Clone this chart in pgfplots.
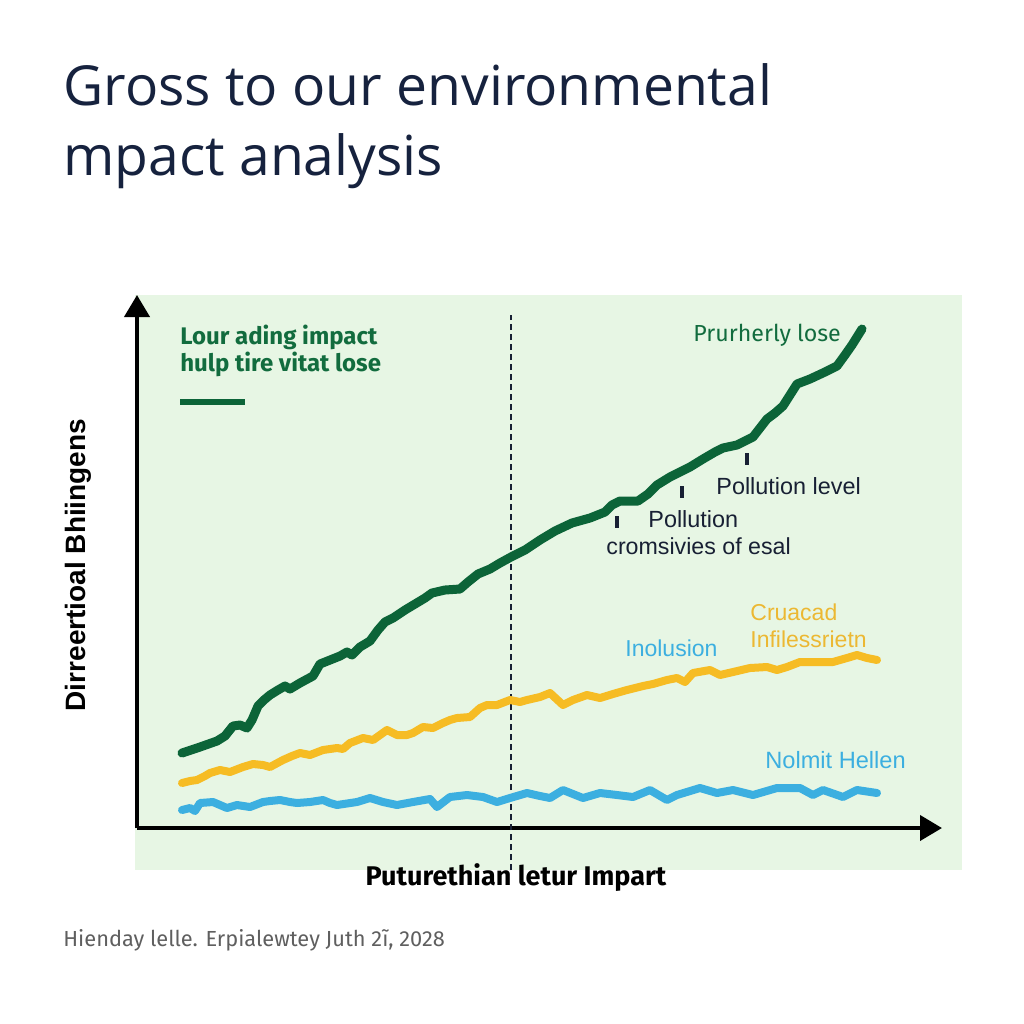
\documentclass[border=0pt]{standalone}
\usepackage{fontspec}
\usepackage{pgfplots}
\pgfplotsset{compat=1.18}
\usetikzlibrary{arrows.meta}
\setmainfont{Fira Sans}
\newfontfamily\titlefont{Open Sans}
\newfontfamily\arialish{Liberation Sans}

\definecolor{bgpanel}{RGB}{231,246,228}
\definecolor{titlenavy}{RGB}{22,34,62}
\definecolor{notenavy}{RGB}{24,32,52}
\definecolor{lossgreen}{RGB}{12,100,56}
\definecolor{textgreen}{RGB}{18,108,62}
\definecolor{lineyellow}{RGB}{246,188,36}
\definecolor{textyellow}{RGB}{236,184,50}
\definecolor{lineblue}{RGB}{60,175,224}
\definecolor{footgray}{RGB}{95,95,95}

% values: x = distance from the y axis, y = height above the x axis
\pgfplotstableread{
x y
45 75
63 81
80 87
88 92
96 102
103 103
110 100
115 108
121 122
127 128
133 133
141 138
148 142
153 139
163 145
176 152
183 164
193 168
203 172
210 176
215 173
223 181
233 187
241 198
248 206
256 210
268 218
278 224
288 230
295 235
308 238
323 239
331 246
341 254
353 259
363 265
374 271
388 278
403 288
418 297
435 305
453 310
468 316
475 323
483 327
501 327
511 334
520 343
533 351
543 356
553 361
566 369
578 376
586 380
600 383
608 387
616 391
623 400
630 409
638 415
646 422
653 433
660 444
673 449
688 456
700 462
708 473
715 483
725 499
}\greenloss

\pgfplotstableread{
x y
45 45
53 47
60 48
68 52
73 55
83 58
93 56
106 61
116 64
126 63
133 61
146 68
155 72
163 75
173 73
186 78
200 80
206 79
213 85
226 90
236 88
250 98
260 93
270 93
276 95
286 101
296 100
306 105
313 108
320 110
333 111
343 120
350 123
360 123
373 128
383 126
390 128
403 131
413 135
426 123
436 128
450 133
463 130
476 134
490 138
506 142
516 144
530 148
540 150
548 146
556 155
573 158
583 153
596 156
613 160
630 161
640 158
650 161
663 166
680 166
696 166
710 170
720 173
730 170
740 168
}\yellowline

\pgfplotstableread{
x y
45 18
53 20
58 17
63 25
76 26
83 23
90 20
100 23
113 21
126 26
133 27
143 28
153 26
160 25
173 26
186 28
193 25
200 23
220 26
233 30
246 26
260 23
276 26
293 29
300 21
313 31
330 33
346 31
360 26
373 30
390 35
403 32
413 30
426 38
436 34
446 30
463 35
480 33
496 31
513 38
530 28
540 33
563 40
580 35
596 38
616 33
640 40
663 40
676 33
686 38
706 31
720 38
740 35
}\blueline

\begin{document}
\begin{tikzpicture}
\begin{scope}[x=0.5pt,y=-0.5pt]
  \path[use as bounding box] (0,0) rectangle (1024,1024);
  \fill[white] (0,0) rectangle (1024,1024);
  \fill[bgpanel] (135,295) rectangle (962,870);
  % title
  \node[anchor=base west, inner sep=0, text=titlenavy,
        font=\titlefont\fontsize{27.6}{32}\selectfont] at (63,105) {Gross to our environmental};
  \node[anchor=base west, inner sep=0, text=titlenavy,
        font=\titlefont\fontsize{27.6}{32}\selectfont] at (63,175) {mpact analysis};
  % legend block
  \node[anchor=west, inner sep=0, text=textgreen, font=\bfseries\fontsize{12}{14}\selectfont] at (180,337) {Lour ading impact};
  \node[anchor=west, inner sep=0, text=textgreen, font=\bfseries\fontsize{12}{14}\selectfont] at (180,364) {hulp tire vitat lose};
  \draw[lossgreen, line width=3pt] (180,402) -- (245,402);
  % annotations
  \node[anchor=west, inner sep=0, text=textgreen, font=\fontsize{11.6}{13}\selectfont] at (693,335) {Prurherly lose};
  \node[anchor=west, inner sep=0, text=notenavy, font=\arialish\fontsize{11.7}{13}\selectfont] at (716,486) {Pollution level};
  \node[anchor=west, inner sep=0, text=notenavy, font=\arialish\fontsize{11.7}{13}\selectfont] at (648,519) {Pollution};
  \node[anchor=west, inner sep=0, text=notenavy, font=\arialish\fontsize{11.6}{13}\selectfont] at (606,546) {cromsivies of esal};
  \node[anchor=west, inner sep=0, text=textyellow, font=\arialish\fontsize{11.5}{13}\selectfont] at (750,612) {Cruacad};
  \node[anchor=west, inner sep=0, text=textyellow, font=\arialish\fontsize{11.5}{13}\selectfont] at (750,639) {Infilessrietn};
  \node[anchor=west, inner sep=0, text=lineblue, font=\arialish\fontsize{11.5}{13}\selectfont] at (625,648) {Inolusion};
  \node[anchor=west, inner sep=0, text=lineblue, font=\arialish\fontsize{11.8}{13}\selectfont] at (765,760) {Nolmit Hellen};
  % axis labels and footer
  \node[rotate=90, inner sep=0, font=\arialish\bfseries\fontsize{14}{16}\selectfont] at (78,565) {Dirreertioal Bhiingens};
  \node[inner sep=0, font=\bfseries\fontsize{13.5}{16}\selectfont] at (516,878) {Puturethian letur Impart};
  \node[anchor=west, inner sep=0, text=footgray, font=\fontsize{10.9}{13}\selectfont] at (63,940) {Hienday lelle. Erpialewtey Juth 2ĩ, 2028};
\end{scope}

\begin{axis}[
    at={(68.5pt,-414pt)}, anchor=south west,
    scale only axis, width=402.5pt, height=266.5pt,
    xmin=0, xmax=805, ymin=0, ymax=533,
    axis lines=left,
    axis line style={line width=2pt, -{Triangle[length=11pt,width=12.5pt]}},
    xtick=\empty, ytick=\empty,
    clip=false,
]
\draw[notenavy, line width=0.7pt, dash pattern=on 3pt off 2pt] (axis cs:374,-42) -- (axis cs:374,513);
\addplot[lineblue, line width=4pt, line join=round, line cap=round] table {\blueline};
\addplot[lineyellow, line width=4pt, line join=round, line cap=round] table {\yellowline};
\addplot[lossgreen, line width=4.5pt, line join=round, line cap=round] table {\greenloss};
% small pointer ticks below the loss line
\addplot[only marks, mark=|, mark size=3pt, mark options={line width=1.6pt, notenavy}] coordinates {
    (480,306) (545,336) (610,369)
};
\end{axis}
\end{tikzpicture}
\end{document}
